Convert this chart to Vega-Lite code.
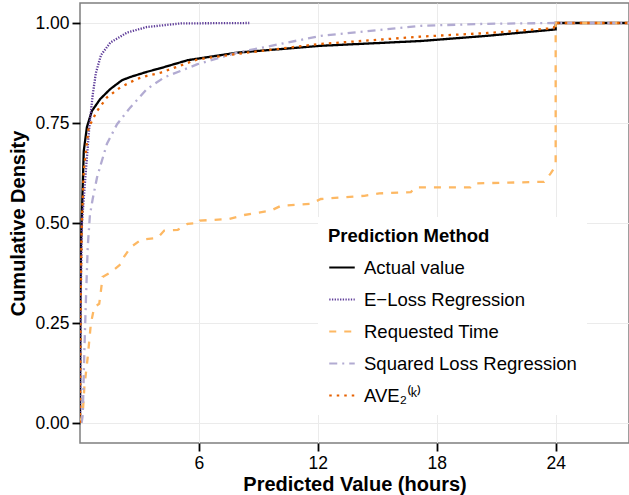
{
  "$schema": "https://vega.github.io/schema/vega-lite/v6.json",
  "width": 549,
  "height": 440,
  "autosize": {"type": "none"},
  "padding": {"left": 80, "top": 3, "right": 0, "bottom": 52},
  "background": "white",
  "config": {
    "font": "Liberation Sans",
    "view": {"stroke": "#7f7f7f", "strokeWidth": 1.5},
    "axis": {
      "domain": false,
      "gridColor": "#EBEBEB",
      "gridWidth": 1,
      "tickColor": "#000000",
      "tickWidth": 1.8,
      "tickSize": 8,
      "labelColor": "#000000",
      "labelFontSize": 17.5,
      "labelPadding": 3,
      "titleFontSize": 20,
      "titleFontWeight": "bold",
      "titleColor": "#000000"
    }
  },
  "data": {
    "values": [
      {"m": "Actual value", "x": 0, "y": 0},
      {"m": "Actual value", "x": 0.02, "y": 0.3},
      {"m": "Actual value", "x": 0.05, "y": 0.45},
      {"m": "Actual value", "x": 0.1, "y": 0.53},
      {"m": "Actual value", "x": 0.19, "y": 0.68},
      {"m": "Actual value", "x": 0.35, "y": 0.74},
      {"m": "Actual value", "x": 0.6, "y": 0.78},
      {"m": "Actual value", "x": 1.02, "y": 0.81},
      {"m": "Actual value", "x": 1.53, "y": 0.835},
      {"m": "Actual value", "x": 2.12, "y": 0.857},
      {"m": "Actual value", "x": 2.54, "y": 0.865},
      {"m": "Actual value", "x": 3.38, "y": 0.878},
      {"m": "Actual value", "x": 3.92, "y": 0.885},
      {"m": "Actual value", "x": 5.43, "y": 0.907},
      {"m": "Actual value", "x": 7.95, "y": 0.926},
      {"m": "Actual value", "x": 12.15, "y": 0.943},
      {"m": "Actual value", "x": 17.2, "y": 0.955},
      {"m": "Actual value", "x": 20.56, "y": 0.968},
      {"m": "Actual value", "x": 24.0, "y": 0.984},
      {"m": "Actual value", "x": 24.0, "y": 1.0},
      {"m": "Actual value", "x": 27.7, "y": 1.0},

      {"m": "E−Loss Regression", "x": 0, "y": 0},
      {"m": "E−Loss Regression", "x": 0.03, "y": 0.3},
      {"m": "E−Loss Regression", "x": 0.1, "y": 0.5},
      {"m": "E−Loss Regression", "x": 0.27, "y": 0.614},
      {"m": "E−Loss Regression", "x": 0.47, "y": 0.74},
      {"m": "E−Loss Regression", "x": 0.64, "y": 0.82},
      {"m": "E−Loss Regression", "x": 0.8, "y": 0.875},
      {"m": "E−Loss Regression", "x": 1.06, "y": 0.92},
      {"m": "E−Loss Regression", "x": 1.53, "y": 0.951},
      {"m": "E−Loss Regression", "x": 2.37, "y": 0.976},
      {"m": "E−Loss Regression", "x": 3.38, "y": 0.99},
      {"m": "E−Loss Regression", "x": 5.09, "y": 0.999},
      {"m": "E−Loss Regression", "x": 8.54, "y": 1.0},

      {"m": "Requested Time", "x": 0, "y": 0},
      {"m": "Requested Time", "x": 0.14, "y": 0.024},
      {"m": "Requested Time", "x": 0.22, "y": 0.09},
      {"m": "Requested Time", "x": 0.39, "y": 0.165},
      {"m": "Requested Time", "x": 0.55, "y": 0.249},
      {"m": "Requested Time", "x": 0.72, "y": 0.29},
      {"m": "Requested Time", "x": 0.97, "y": 0.298},
      {"m": "Requested Time", "x": 1.06, "y": 0.332},
      {"m": "Requested Time", "x": 1.14, "y": 0.365},
      {"m": "Requested Time", "x": 1.56, "y": 0.377},
      {"m": "Requested Time", "x": 2.07, "y": 0.398},
      {"m": "Requested Time", "x": 2.23, "y": 0.416},
      {"m": "Requested Time", "x": 2.57, "y": 0.44},
      {"m": "Requested Time", "x": 3.08, "y": 0.458},
      {"m": "Requested Time", "x": 3.92, "y": 0.463},
      {"m": "Requested Time", "x": 4.25, "y": 0.481},
      {"m": "Requested Time", "x": 4.93, "y": 0.483},
      {"m": "Requested Time", "x": 5.43, "y": 0.498},
      {"m": "Requested Time", "x": 6.0, "y": 0.5},
      {"m": "Requested Time", "x": 6.05, "y": 0.506},
      {"m": "Requested Time", "x": 7.5, "y": 0.51},
      {"m": "Requested Time", "x": 8.29, "y": 0.52},
      {"m": "Requested Time", "x": 9.63, "y": 0.531},
      {"m": "Requested Time", "x": 10.14, "y": 0.543},
      {"m": "Requested Time", "x": 11.65, "y": 0.548},
      {"m": "Requested Time", "x": 12.15, "y": 0.56},
      {"m": "Requested Time", "x": 14.34, "y": 0.568},
      {"m": "Requested Time", "x": 15.1, "y": 0.574},
      {"m": "Requested Time", "x": 16.69, "y": 0.577},
      {"m": "Requested Time", "x": 16.9, "y": 0.589},
      {"m": "Requested Time", "x": 19.7, "y": 0.589},
      {"m": "Requested Time", "x": 19.9, "y": 0.599},
      {"m": "Requested Time", "x": 23.41, "y": 0.603},
      {"m": "Requested Time", "x": 23.75, "y": 0.624},
      {"m": "Requested Time", "x": 24.0, "y": 0.643},
      {"m": "Requested Time", "x": 24.0, "y": 1.0},
      {"m": "Requested Time", "x": 27.7, "y": 1.0},

      {"m": "Squared Loss Regression", "x": 0.08, "y": 0},
      {"m": "Squared Loss Regression", "x": 0.14, "y": 0.02},
      {"m": "Squared Loss Regression", "x": 0.22, "y": 0.18},
      {"m": "Squared Loss Regression", "x": 0.3, "y": 0.31},
      {"m": "Squared Loss Regression", "x": 0.39, "y": 0.44},
      {"m": "Squared Loss Regression", "x": 0.5, "y": 0.52},
      {"m": "Squared Loss Regression", "x": 0.64, "y": 0.56},
      {"m": "Squared Loss Regression", "x": 0.86, "y": 0.614},
      {"m": "Squared Loss Regression", "x": 1.06, "y": 0.648},
      {"m": "Squared Loss Regression", "x": 1.36, "y": 0.698},
      {"m": "Squared Loss Regression", "x": 1.87, "y": 0.747},
      {"m": "Squared Loss Regression", "x": 2.54, "y": 0.789},
      {"m": "Squared Loss Regression", "x": 3.38, "y": 0.835},
      {"m": "Squared Loss Regression", "x": 4.25, "y": 0.864},
      {"m": "Squared Loss Regression", "x": 5.93, "y": 0.897},
      {"m": "Squared Loss Regression", "x": 7.95, "y": 0.926},
      {"m": "Squared Loss Regression", "x": 12.15, "y": 0.968},
      {"m": "Squared Loss Regression", "x": 17.2, "y": 0.993},
      {"m": "Squared Loss Regression", "x": 20.56, "y": 0.998},
      {"m": "Squared Loss Regression", "x": 24.0, "y": 1.0},
      {"m": "Squared Loss Regression", "x": 27.7, "y": 1.0},

      {"m": "AVE₂⁽ᵏ⁾", "x": 0, "y": 0},
      {"m": "AVE₂⁽ᵏ⁾", "x": 0.03, "y": 0.3},
      {"m": "AVE₂⁽ᵏ⁾", "x": 0.08, "y": 0.48},
      {"m": "AVE₂⁽ᵏ⁾", "x": 0.19, "y": 0.631},
      {"m": "AVE₂⁽ᵏ⁾", "x": 0.44, "y": 0.739},
      {"m": "AVE₂⁽ᵏ⁾", "x": 0.86, "y": 0.78},
      {"m": "AVE₂⁽ᵏ⁾", "x": 1.36, "y": 0.814},
      {"m": "AVE₂⁽ᵏ⁾", "x": 2.03, "y": 0.839},
      {"m": "AVE₂⁽ᵏ⁾", "x": 2.87, "y": 0.86},
      {"m": "AVE₂⁽ᵏ⁾", "x": 3.38, "y": 0.868},
      {"m": "AVE₂⁽ᵏ⁾", "x": 4.08, "y": 0.876},
      {"m": "AVE₂⁽ᵏ⁾", "x": 5.93, "y": 0.909},
      {"m": "AVE₂⁽ᵏ⁾", "x": 7.95, "y": 0.923},
      {"m": "AVE₂⁽ᵏ⁾", "x": 11.98, "y": 0.947},
      {"m": "AVE₂⁽ᵏ⁾", "x": 17.2, "y": 0.966},
      {"m": "AVE₂⁽ᵏ⁾", "x": 20.56, "y": 0.975},
      {"m": "AVE₂⁽ᵏ⁾", "x": 23.9, "y": 0.987},
      {"m": "AVE₂⁽ᵏ⁾", "x": 24.0, "y": 1.0},
      {"m": "AVE₂⁽ᵏ⁾", "x": 27.7, "y": 1.0}
    ]
  },
  "mark": {"type": "line", "strokeWidth": 2.3, "clip": true},
  "encoding": {
    "x": {
      "field": "x",
      "type": "quantitative",
      "scale": {"domain": [0, 27.7], "nice": false, "zero": false},
      "axis": {"values": [6, 12, 18, 24], "title": "Predicted Value (hours)", "titlePadding": 3}
    },
    "y": {
      "field": "y",
      "type": "quantitative",
      "scale": {"domain": [-0.05, 1.05], "nice": false, "zero": false},
      "axis": {"values": [0, 0.25, 0.5, 0.75, 1], "format": ".2f", "title": "Cumulative Density", "titlePadding": 6}
    },
    "order": {"value": null},
    "color": {
      "field": "m",
      "type": "nominal",
      "scale": {
        "domain": ["Actual value", "E−Loss Regression", "Requested Time", "Squared Loss Regression", "AVE₂⁽ᵏ⁾"],
        "range": ["#000000", "#5E3C99", "#FDB863", "#B2ABD2", "#E66101"]
      },
      "legend": {
        "title": "Prediction Method",
        "orient": "none",
        "legendX": 238,
        "legendY": 214,
        "fillColor": "white",
        "padding": 10,
        "titleFontSize": 18.5,
        "titleFontWeight": "bold",
        "titleColor": "#000000",
        "titlePadding": 8,
        "labelFontSize": 18.5,
        "labelColor": "#000000",
        "labelLimit": 0,
        "labelOffset": 8,
        "symbolType": "stroke",
        "symbolSize": 650,
        "symbolStrokeWidth": 2,
        "rowPadding": 8
      }
    },
    "strokeDash": {
      "field": "m",
      "type": "nominal",
      "scale": {
        "domain": ["Actual value", "E−Loss Regression", "Requested Time", "Squared Loss Regression", "AVE₂⁽ᵏ⁾"],
        "range": [[1, 0], [1.3, 1.4], [7, 8], [8, 5, 2, 5], [2.5, 5]]
      },
      "legend": null
    }
  }
}
